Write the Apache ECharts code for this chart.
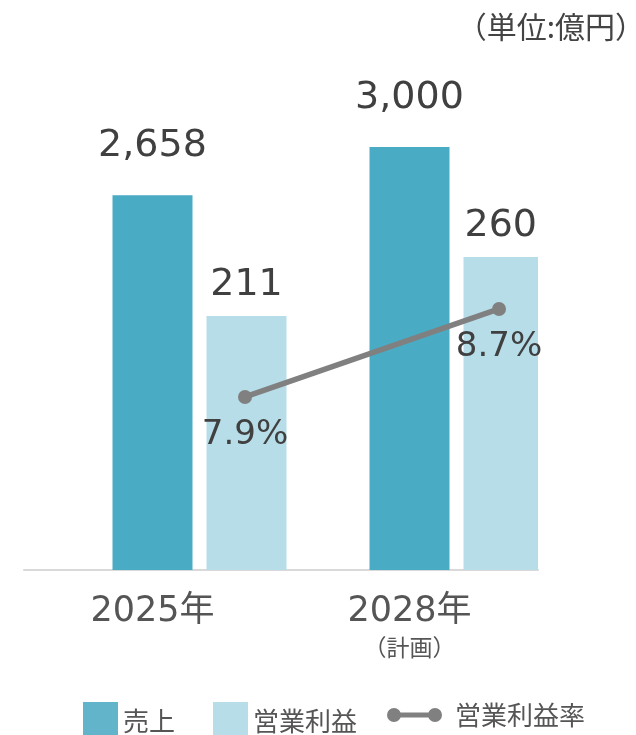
<!DOCTYPE html>
<html>
<head>
<meta charset="utf-8">
<script src="https://cdn.jsdelivr.net/npm/echarts@6/dist/echarts.min.js"></script>
<style>
html,body{margin:0;padding:0;background:#fff;}
#main{width:636px;height:735px;}
</style>
</head>
<body>
<div id="main"></div>
<script>
var years = ['2025年', '2028年'];
var yearNotes = ['', '（計画）'];
var sales = [2658, 3000];        // 売上
var profit = [211, 260];         // 営業利益
var profitRate = [7.9, 8.7];     // 営業利益率 (%)

var dom = document.getElementById('main');
var myChart = echarts.init(dom);
var font = '"Noto Sans CJK JP", "Noto Sans", sans-serif';
var numFont = '"DejaVu Sans", "Noto Sans CJK JP", sans-serif';

option = {
    textStyle: { fontFamily: font },
    title: {
        text: '（単位:億円）',
        right: -14,
        top: 7,
        textStyle: { fontSize: 30, fontWeight: 'normal', color: '#444', fontFamily: font }
    },
    legend: [
        {
            left: 83,
            top: 702,
            padding: 0,
            itemWidth: 35,
            itemHeight: 38,
            itemGap: 38,
            icon: 'rect',
            textStyle: { fontSize: 26, color: '#555', fontFamily: font },
            data: [
                { name: '売上', itemStyle: { color: '#62b4cb' } },
                { name: '営業利益' }
            ]
        },
        {
            left: 387,
            top: 702,
            padding: 0,
            itemWidth: 55,
            itemHeight: 38,
            textStyle: { fontSize: 26, color: '#555', fontFamily: font, padding: [0, 0, 0, 8] },
            data: [{
                name: '営業利益率',
                icon: 'path://M7,0A7,7 0 1,0 7,14A7,7 0 1,0 7,0Z M48,0A7,7 0 1,0 48,14A7,7 0 1,0 48,0Z M7,4.5L7,9.5L48,9.5L48,4.5Z'
            }]
        }
    ],
    grid: [
        { left: 24, right: 98, top: 90, height: 480 },
        { left: 118, right: 10, top: 90, height: 480 }
    ],
    xAxis: [
        {
            type: 'category',
            gridIndex: 0,
            data: years,
            axisTick: { show: false },
            axisLine: { lineStyle: { color: '#d9d9d9', width: 2 } },
            axisLabel: {
                margin: 21,
                formatter: function (v, i) {
                    return yearNotes[i] ? '{a|' + v + '}\n{b|' + yearNotes[i] + '}' : '{a|' + v + '}';
                },
                rich: {
                    a: { fontSize: 35, color: '#555', lineHeight: 42, fontFamily: numFont },
                    b: { fontSize: 23, color: '#555', lineHeight: 28, fontFamily: font }
                },
                verticalAlign: 'top'
            }
        },
        {
            type: 'category',
            gridIndex: 1,
            data: years,
            show: false
        }
    ],
    yAxis: [
        { type: 'value', gridIndex: 0, min: 0, max: 3404, show: false },
        { type: 'value', gridIndex: 0, min: 0, max: 398.7, show: false },
        { type: 'value', gridIndex: 1, min: 6.327, max: 10.69, show: false }
    ],
    series: [
        {
            name: 'spacer',
            type: 'bar',
            xAxisIndex: 0,
            yAxisIndex: 0,
            barWidth: 80,
            barGap: '17.5%',
            data: [null, null]
        },
        {
            name: '売上',
            type: 'bar',
            xAxisIndex: 0,
            yAxisIndex: 0,
            barWidth: 80,
            barGap: '17.5%',
            itemStyle: { color: '#4aabc5' },
            label: {
                show: true,
                position: 'top',
                distance: 30,
                fontSize: 38,
                color: '#404040',
                fontFamily: numFont,
                formatter: function (p) { return p.value.toLocaleString('en-US'); }
            },
            data: sales
        },
        {
            name: '営業利益',
            type: 'bar',
            xAxisIndex: 0,
            yAxisIndex: 1,
            barWidth: 80,
            barGap: '17.5%',
            itemStyle: { color: '#b7dde8' },
            label: {
                show: true,
                position: 'top',
                distance: 12,
                fontSize: 38,
                color: '#404040',
                fontFamily: numFont
            },
            data: profit
        },
        {
            name: '営業利益率',
            type: 'line',
            xAxisIndex: 1,
            yAxisIndex: 2,
            symbol: 'circle',
            symbolSize: 14,
            itemStyle: { color: '#808080' },
            lineStyle: { color: '#808080', width: 5.5 },
            label: {
                show: true,
                position: 'bottom',
                distance: 14,
                fontSize: 34,
                color: '#404040',
                fontFamily: numFont,
                formatter: '{c}%'
            },
            z: 5,
            data: profitRate
        }
    ]
};

if (option && typeof option === 'object') {
    myChart.setOption(option, true);
}
</script>
</body>
</html>
